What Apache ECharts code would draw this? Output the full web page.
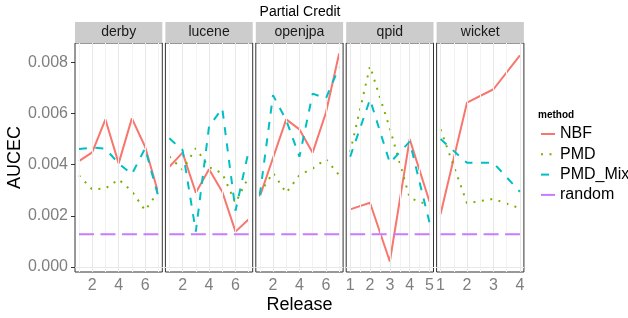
<!DOCTYPE html>
<html>
<head>
  <meta charset="utf-8">
</head>
<body style="margin: 0">
  <div id="container" style="width: 628px; height: 318px"></div>
  <script type="text/javascript" src="https://cdn.jsdelivr.net/npm/echarts@6/dist/echarts.min.js"></script>
  <script type="text/javascript">
    // facets
    var projects = ['derby', 'lucene', 'openjpa', 'qpid', 'wicket'];
    var methods = ['NBF', 'PMD', 'PMD_Mix', 'random'];

    // releases per project
    var derbyRel = [1, 2, 3, 4, 5, 6, 7];
    var luceneRel = [1, 2, 3, 4, 5, 6, 7];
    var openjpaRel = [1, 2, 3, 4, 5, 6, 7];
    var qpidRel = [1, 2, 3, 4, 5];
    var wicketRel = [1, 2, 3, 4];

    // AUCEC values
    var derbyNBF = [0.00414, 0.00448, 0.00577, 0.00405, 0.00581, 0.00470, 0.00288];
    var derbyPMD = [0.00358, 0.00303, 0.00307, 0.00342, 0.00296, 0.00221, 0.00295];
    var derbyMix = [0.00461, 0.00467, 0.00462, 0.00405, 0.00363, 0.00464, 0.00275];
    var derbyRandom = [0.00128, 0.00128, 0.00128, 0.00128, 0.00128, 0.00128, 0.00128];

    var luceneNBF = [0.00392, 0.00447, 0.00290, 0.00382, 0.00294, 0.00138, 0.00186];
    var lucenePMD = [0.00432, 0.00380, 0.00464, 0.00390, 0.00366, 0.00250, 0.00353];
    var luceneMix = [0.00503, 0.00457, 0.00138, 0.00550, 0.00620, 0.00220, 0.00455];
    var luceneRandom = [0.00128, 0.00128, 0.00128, 0.00128, 0.00128, 0.00128, 0.00128];

    var openjpaNBF = [0.00275, 0.00426, 0.00577, 0.00538, 0.00447, 0.00603, 0.00835];
    var openjpaPMD = [0.00288, 0.00368, 0.00290, 0.00359, 0.00385, 0.00422, 0.00359];
    var openjpaMix = [0.00280, 0.00672, 0.00574, 0.00431, 0.00678, 0.00659, 0.00782];
    var openjpaRandom = [0.00128, 0.00128, 0.00128, 0.00128, 0.00128, 0.00128, 0.00128];

    var qpidNBF = [0.00225, 0.00251, 0.00021, 0.00500, 0.00255];
    var qpidPMD = [0.00450, 0.00785, 0.00542, 0.00270, 0.00240];
    var qpidMix = [0.00431, 0.00655, 0.00407, 0.00490, 0.00173];
    var qpidRandom = [0.00128, 0.00128, 0.00128, 0.00128, 0.00128];

    var wicketNBF = [0.00207, 0.00643, 0.00695, 0.00828];
    var wicketPMD = [0.00538, 0.00249, 0.00266, 0.00229];
    var wicketMix = [0.00500, 0.00407, 0.00407, 0.00294];
    var wicketRandom = [0.00128, 0.00128, 0.00128, 0.00128];

    // axis ticks
    var yTicks = [0, 0.002, 0.004, 0.006, 0.008];
    var yMinor = [0.001, 0.003, 0.005, 0.007];
    var xTicks = [[2, 4, 6], [2, 4, 6], [2, 4, 6], [1, 2, 3, 4, 5], [1, 2, 3, 4]];
    var xMinor = [[1, 3, 5, 7], [1, 3, 5, 7], [1, 3, 5, 7], [1.5, 2.5, 3.5, 4.5], [1.5, 2.5, 3.5]];
    var xRange = [[0.7, 7.3], [0.7, 7.3], [0.7, 7.3], [0.8, 5.2], [0.85, 4.15]];

    var releases = [derbyRel, luceneRel, openjpaRel, qpidRel, wicketRel];
    var values = [
      [derbyNBF, derbyPMD, derbyMix, derbyRandom],
      [luceneNBF, lucenePMD, luceneMix, luceneRandom],
      [openjpaNBF, openjpaPMD, openjpaMix, openjpaRandom],
      [qpidNBF, qpidPMD, qpidMix, qpidRandom],
      [wicketNBF, wicketPMD, wicketMix, wicketRandom]
    ];

    var colors = ['#F8766D', '#7CAE00', '#00BFC4', '#C77CFF'];
    var lineTypes = ['solid', [2, 6.5], [8, 8.5], [15, 6.5]];
    var font = 'Liberation Sans, Arial, sans-serif';

    var panelLeft = 75, panelPitch = 90.4, panelWidth = 87.3;
    var panelTop = 43, panelHeight = 229;

    var dom = document.getElementById('container');
    var myChart = echarts.init(dom, null, { renderer: 'canvas' });

    var grids = [], xAxes = [], yAxes = [], series = [], graphics = [];

    projects.forEach(function (proj, i) {
      var left = panelLeft + i * panelPitch;
      grids.push({
        left: left, top: panelTop, width: panelWidth, height: panelHeight,
        outerBoundsMode: 'none',
        show: true, borderColor: '#333', borderWidth: 1, backgroundColor: '#fff'
      });
      xAxes.push({
        type: 'value', gridIndex: i,
        min: xRange[i][0], max: xRange[i][1],
        axisLine: { show: false },
        splitLine: { show: false },
        axisTick: { show: true, customValues: xTicks[i], length: 4, lineStyle: { color: '#333' } },
        axisLabel: { customValues: xTicks[i], color: '#7f7f7f', fontSize: 16, fontFamily: font, margin: 6 }
      });
      yAxes.push({
        type: 'value', gridIndex: i,
        min: -0.0002, max: 0.00876,
        axisLine: { show: false },
        splitLine: { show: false },
        axisTick: { show: i === 0, customValues: yTicks, length: 4, lineStyle: { color: '#333' } },
        axisLabel: {
          show: i === 0, customValues: yTicks, color: '#7f7f7f', fontSize: 16, fontFamily: font, margin: 7,
          formatter: function (v) { return v.toFixed(3); }
        },
        name: i === 0 ? 'AUCEC' : '',
        nameLocation: 'middle', nameGap: 40,
        nameTextStyle: { color: '#000', fontSize: 18, fontFamily: font }
      });

      // panel grid lines
      var gl = [];
      yMinor.forEach(function (v) { gl.push({ yAxis: v, lineStyle: { color: '#f3f3f3', width: 1 } }); });
      xMinor[i].forEach(function (v) { gl.push({ xAxis: v, lineStyle: { color: '#f3f3f3', width: 1 } }); });
      yTicks.forEach(function (v) { gl.push({ yAxis: v, lineStyle: { color: '#e8e8e8', width: 1 } }); });
      xTicks[i].forEach(function (v) { gl.push({ xAxis: v, lineStyle: { color: '#e8e8e8', width: 1 } }); });
      series.push({
        type: 'line', xAxisIndex: i, yAxisIndex: i, data: [], z: 1, silent: true,
        markLine: {
          silent: true, animation: false, symbol: ['none', 'none'],
          label: { show: false }, emphasis: { disabled: true },
          lineStyle: { type: 'solid' },
          data: gl
        }
      });

      methods.forEach(function (m, k) {
        series.push({
          name: m, type: 'line', xAxisIndex: i, yAxisIndex: i,
          symbol: 'none', z: 3 + k,
          data: releases[i].map(function (r, j) { return [r, values[i][k][j]]; }),
          itemStyle: { color: colors[k] },
          lineStyle: { color: colors[k], width: 2, type: lineTypes[k] }
        });
      });

      // facet strip
      graphics.push({
        type: 'rect', shape: { x: left, y: 22, width: panelWidth, height: 21 },
        style: { fill: '#cccccc' }, silent: true
      });
      graphics.push({
        type: 'text', x: left + panelWidth / 2, y: 32.5,
        style: { text: proj, fill: '#1a1a1a', font: '14px ' + font, textAlign: 'center', textVerticalAlign: 'middle' },
        silent: true
      });
    });

    graphics.push({
      type: 'text', x: 300, y: 12,
      style: { text: 'Partial Credit', fill: '#000', font: '14px ' + font, textAlign: 'center', textVerticalAlign: 'middle' }
    });
    graphics.push({
      type: 'text', x: 299.5, y: 305,
      style: { text: 'Release', fill: '#000', font: '18px ' + font, textAlign: 'center', textVerticalAlign: 'middle' }
    });
    graphics.push({
      type: 'text', x: 538, y: 115,
      style: { text: 'method', fill: '#000', font: 'bold 10px ' + font, textAlign: 'left', textVerticalAlign: 'middle' }
    });

    var option = {
      animation: false,
      backgroundColor: '#fff',
      grid: grids,
      xAxis: xAxes,
      yAxis: yAxes,
      legend: {
        data: methods,
        orient: 'vertical',
        left: 540, top: 126,
        padding: 0,
        itemWidth: 14, itemHeight: 10, itemGap: 4.3,
        itemStyle: { opacity: 0 },
        textStyle: { fontSize: 16, fontFamily: font, color: '#000', lineHeight: 16 }
      },
      graphic: graphics,
      series: series
    };

    myChart.setOption(option);
    window.addEventListener('resize', myChart.resize);
  </script>
</body>
</html>
